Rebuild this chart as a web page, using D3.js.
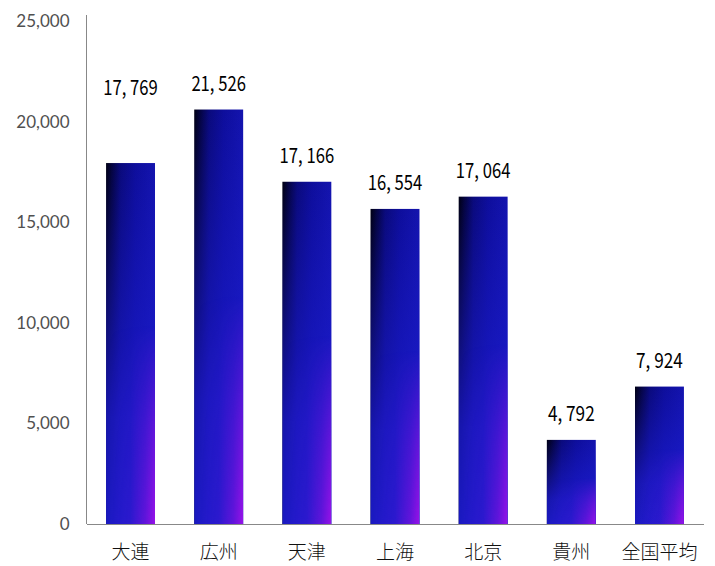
<!DOCTYPE html>
<html><head><meta charset="utf-8">
<script src="https://cdn.jsdelivr.net/npm/d3@7"></script>
<style>html,body{margin:0;padding:0;background:#fff;}</style>
</head><body>
<svg id="chart" width="715" height="566"></svg>
<script>
// ---- data ----
const categories = ["大連", "広州", "天津", "上海", "北京", "貴州", "全国平均"];
const barValues = [17940, 20600, 17010, 15660, 16270, 4180, 6830];   // bar heights as drawn
const labelTexts = ["17, 769", "21, 526", "17, 166", "16, 554", "17, 064", "4, 792", "7, 924"];
const yTicks = [0, 5000, 10000, 15000, 20000, 25000];
const yTickLabels = ["0", "5,000", "10,000", "15,000", "20,000", "25,000"];

// ---- layout ----
const svg = d3.select("#chart");
const x = d3.scaleBand().domain(categories).range([86.5, 703.5]).paddingInner(0.445).paddingOuter(0.222);
const y = d3.scaleLinear().domain([0, 25000]).range([524, 21]);

const defs = svg.append("defs");
function addGrad(id, x2, y2, stops) {
  const g = defs.append("linearGradient").attr("id", id).attr("x1", 0).attr("y1", 0).attr("x2", x2).attr("y2", y2);
  stops.forEach(([o, c, op]) => g.append("stop").attr("offset", o).attr("stop-color", c).attr("stop-opacity", op == null ? 1 : op));
}
// base: dark on the left, deep blue on the right
addGrad("gBase", 1, 0, [[0, "#000012"], [0.12, "#040440"], [0.3, "#0a0a7c"], [0.6, "#0e0e9c"], [1, "#1414ae"]]);
// brighter blue towards the bottom
addGrad("gBlue", 0, 1, [[0, "#1c1cd0", 0], [0.3, "#1c1cd0", 0.35], [0.7, "#1c1cd0", 0.8], [1, "#1c1cd0", 0.92]]);
// purple on the right side
addGrad("gPurpH", 1, 0, [[0, "#9010e4", 0], [0.5, "#9010e4", 0.15], [0.8, "#9010e4", 0.6], [1, "#9a12e8", 1]]);
addGrad("gMaskV", 0, 1, [[0, "#fff", 0], [0.45, "#fff", 0], [0.75, "#fff", 0.6], [1, "#fff", 1]]);
defs.append("mask").attr("id", "mPurp").attr("maskContentUnits", "objectBoundingBox")
  .append("rect").attr("x", 0).attr("y", 0).attr("width", 1).attr("height", 1).attr("fill", "url(#gMaskV)");

// axes
const yAxis = d3.axisLeft(y).tickValues(yTicks).tickSize(0).tickPadding(17)
  .tickFormat((d, i) => yTickLabels[i]);
const gy = svg.append("g").attr("transform", "translate(86.5,0)").call(yAxis);
gy.select(".domain").remove();
gy.selectAll("text").attr("font-family", "Lato, 'Open Sans', sans-serif").attr("font-size", 17).attr("fill", "#505050");
svg.append("line").attr("x1", 86.5).attr("x2", 86.5).attr("y1", 15).attr("y2", y(0)).attr("stroke", "#888").attr("stroke-width", 1);

const xAxis = d3.axisBottom(x).tickSize(0).tickPadding(22);
const gx = svg.append("g").attr("transform", `translate(0,${y(0)})`).call(xAxis);
gx.select(".domain").attr("stroke", "#888");
gx.selectAll("text").attr("font-family", "'Noto Sans CJK JP', sans-serif").attr("font-weight", 300)
  .attr("font-size", 19).attr("fill", "#111");

// bars (three stacked fills of the same rectangle)
const bars = svg.append("g").selectAll("g").data(categories).join("g");
const rectAttrs = sel => sel
  .attr("x", d => x(d)).attr("width", x.bandwidth())
  .attr("y", (d, i) => y(barValues[i])).attr("height", (d, i) => y(0) - y(barValues[i]));
bars.append("rect").call(rectAttrs).attr("fill", "url(#gBase)");
bars.append("rect").call(rectAttrs).attr("fill", "url(#gBlue)");
bars.append("rect").call(rectAttrs).attr("fill", "url(#gPurpH)").attr("mask", "url(#mPurp)");

// value labels
const labelLift = {"大連": 68};
svg.append("g").selectAll("text").data(categories).join("text")
  .attr("x", d => x(d) + x.bandwidth() / 2)
  .attr("y", (d, i) => y(barValues[i]) - (labelLift[d] || 19))
  .attr("text-anchor", "middle")
  .attr("font-family", "'Noto Sans CJK JP', 'DejaVu Sans Condensed', sans-serif")
  .attr("font-size", 21).attr("fill", "#000")
  .attr("textLength", (d, i) => labelTexts[i].length * 7.8).attr("lengthAdjust", "spacingAndGlyphs")
  .text((d, i) => labelTexts[i]);
</script>
</body></html>
